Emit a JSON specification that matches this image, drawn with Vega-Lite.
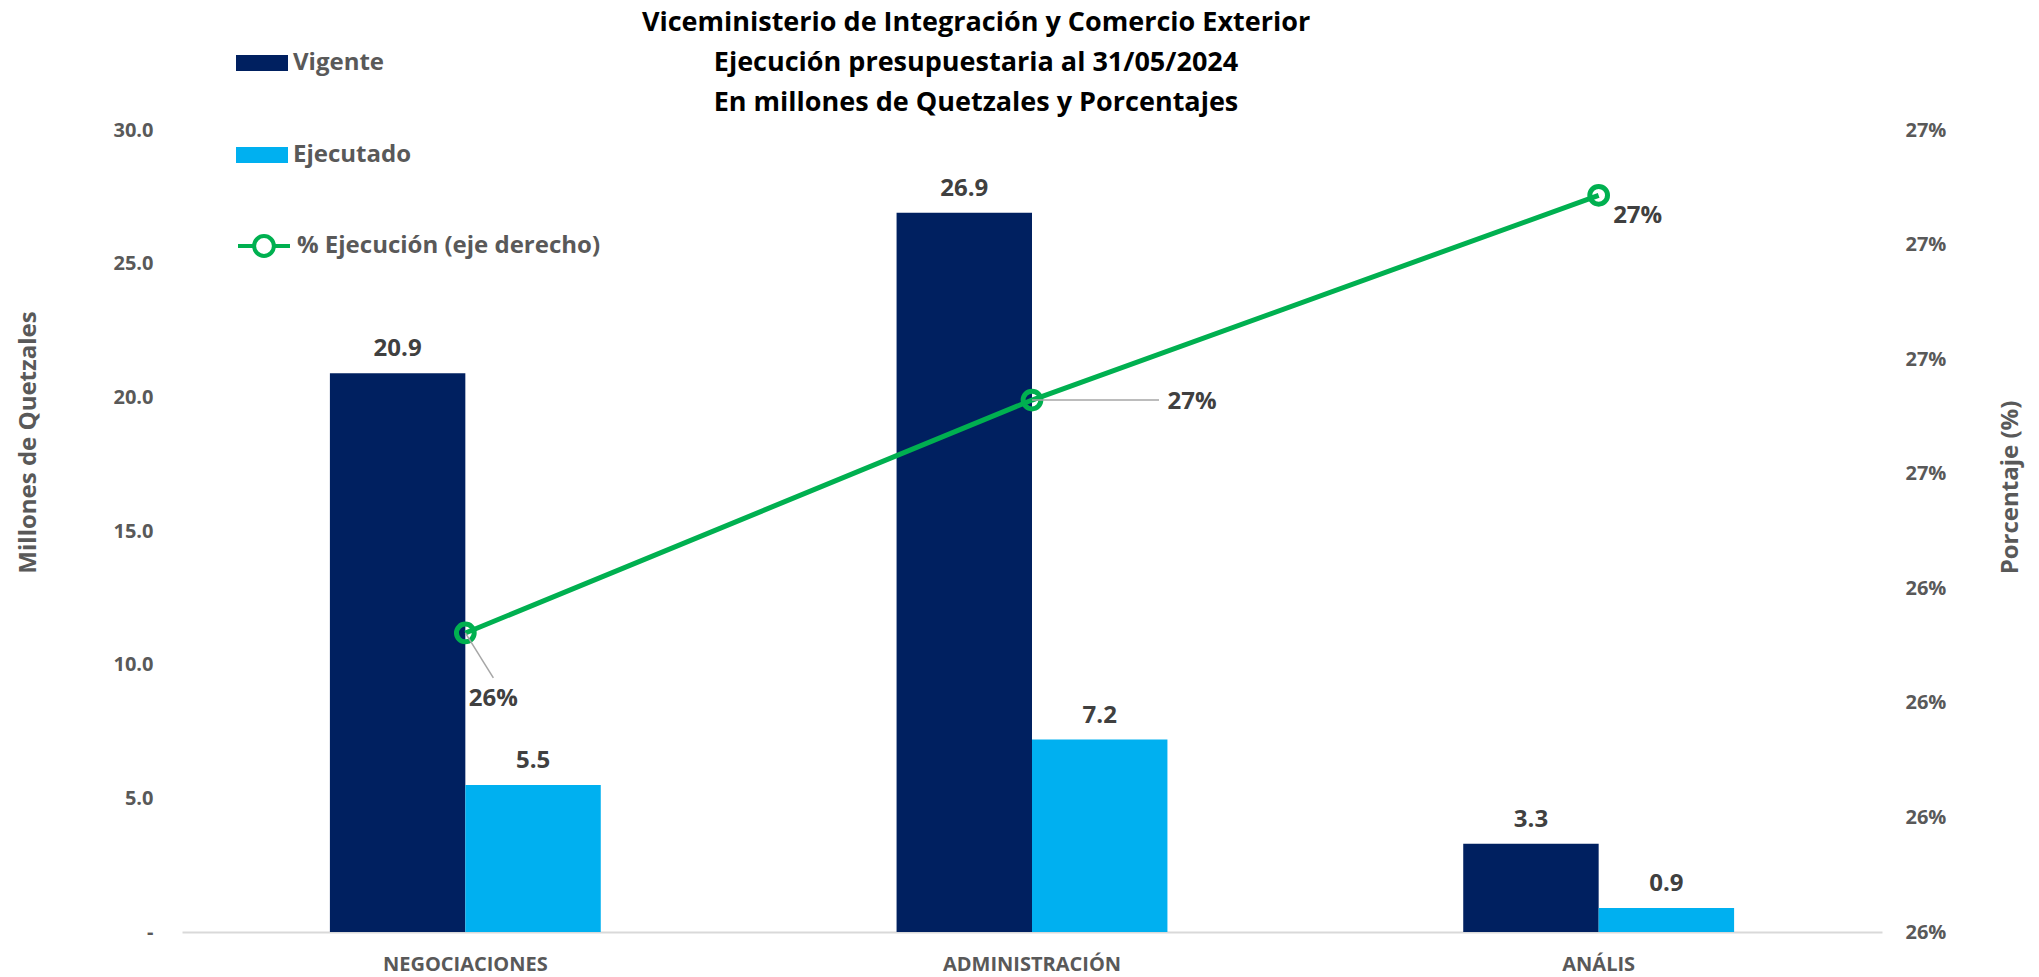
{
  "$schema": "https://vega.github.io/schema/vega-lite/v6.json",
  "width": 1700,
  "height": 802,
  "autosize": {"type": "none"},
  "padding": {"left": 182, "top": 130, "right": 157, "bottom": 45},
  "background": "white",
  "config": {"view": {"stroke": null}, "font": "Open Sans"},
  "title": {
    "text": ["Viceministerio de Integración y Comercio Exterior", "Ejecución presupuestaria al 31/05/2024", "En millones de Quetzales y Porcentajes"],
    "anchor": "middle",
    "frame": "group",
    "dx": -56,
    "fontSize": 27,
    "lineHeight": 40,
    "font": "Open Sans",
    "fontWeight": "bold",
    "color": "#000000",
    "offset": -80
  },
  "datasets": {
    "montos": [
      {"cat": "NEGOCIACIONES", "serie": "Vigente", "valor": 20.9},
      {"cat": "NEGOCIACIONES", "serie": "Ejecutado", "valor": 5.5},
      {"cat": "ADMINISTRACIÓN", "serie": "Vigente", "valor": 26.9},
      {"cat": "ADMINISTRACIÓN", "serie": "Ejecutado", "valor": 7.2},
      {"cat": "ANÁLIS", "serie": "Vigente", "valor": 3.3},
      {"cat": "ANÁLIS", "serie": "Ejecutado", "valor": 0.9}
    ],
    "ejecucion": [
      {"cat": "NEGOCIACIONES", "indicador": "% Ejecución (eje derecho)", "pct": 0.26361},
      {"cat": "ADMINISTRACIÓN", "indicador": "% Ejecución (eje derecho)", "pct": 0.265643},
      {"cat": "ANÁLIS", "indicador": "% Ejecución (eje derecho)", "pct": 0.26743}
    ]
  },
  "encoding": {
    "x": {
      "field": "cat",
      "type": "nominal",
      "sort": ["NEGOCIACIONES", "ADMINISTRACIÓN", "ANÁLIS"],
      "scale": {"paddingInner": 0.522, "paddingOuter": 0.261},
      "axis": {
        "title": null,
        "labelAngle": 0,
        "labelFont": "Open Sans",
        "labelFontSize": 20,
        "labelFontWeight": "bold",
        "labelColor": "#595959",
        "labelPadding": 22,
        "ticks": false,
        "domainColor": "#D9D9D9",
        "domainWidth": 2,
        "grid": false
      }
    }
  },
  "layer": [
    {
      "data": {"name": "montos"},
      "encoding": {
        "y": {
          "field": "valor",
          "type": "quantitative",
          "scale": {"domain": [0, 30]},
          "axis": {
            "title": "Millones de Quetzales",
            "titleFont": "Open Sans",
            "titleFontSize": 24,
            "titleFontWeight": "bold",
            "titleColor": "#595959",
            "titleAngle": -90,
            "titleX": -154,
            "titleY": 312,
            "titleAlign": "center",
            "titleBaseline": "middle",
            "values": [0, 5, 10, 15, 20, 25, 30],
            "labelExpr": "datum.value == 0 ? '-\u00a0\u00a0' : format(datum.value, '.1f')",
            "labelFont": "Open Sans",
            "labelFontSize": 20,
            "labelFontWeight": "bold",
            "labelColor": "#595959",
            "labelPadding": 29,
            "ticks": false,
            "domain": false,
            "grid": false
          }
        }
      },
      "layer": [
        {
          "mark": {"type": "bar"},
          "encoding": {
            "xOffset": {"field": "serie", "type": "nominal", "scale": {"domain": ["Vigente", "Ejecutado"], "paddingInner": 0, "paddingOuter": 0}},
            "color": {
              "field": "serie",
              "type": "nominal",
              "scale": {"domain": ["Vigente", "Ejecutado"], "range": ["#002060", "#00B0F0"]},
              "legend": {
                "orient": "none",
                "legendX": 54,
                "legendY": -93,
                "title": null,
                "direction": "vertical",
                "symbolType": "M-1,-0.31H1V0.31H-1Z",
                "symbolSize": 2704,
                "symbolStrokeWidth": 0,
                "rowPadding": 54,
                "padding": 0,
                "labelFont": "Open Sans",
                "labelFontSize": 24,
                "labelFontWeight": "bold",
                "labelColor": "#595959",
                "labelOffset": 5,
                "labelLimit": 0
              }
            }
          }
        },
        {
          "mark": {"type": "text", "font": "Open Sans", "fontSize": 24, "fontWeight": "bold", "color": "#404040", "baseline": "alphabetic", "dy": -17},
          "encoding": {
            "xOffset": {"field": "serie", "type": "nominal", "scale": {"domain": ["Vigente", "Ejecutado"], "paddingInner": 0, "paddingOuter": 0}},
            "text": {"field": "valor", "type": "quantitative", "format": ".1f"}
          }
        }
      ]
    },
    {
      "data": {"name": "ejecucion"},
      "encoding": {
        "y": {
          "field": "pct",
          "type": "quantitative",
          "scale": {"domain": [0.261, 0.268], "zero": false},
          "axis": {
            "orient": "right",
            "title": "Porcentaje (%)",
            "titleFont": "Open Sans",
            "titleFontSize": 24,
            "titleFontWeight": "bold",
            "titleColor": "#595959",
            "titleAngle": -90,
            "titleX": 128,
            "titleY": 357,
            "titleAlign": "center",
            "titleBaseline": "middle",
            "values": [0.261, 0.262, 0.263, 0.264, 0.265, 0.266, 0.267, 0.268],
            "labelExpr": "format(datum.value + 0.0000001, '.0%')",
            "labelFont": "Open Sans",
            "labelFontSize": 20,
            "labelFontWeight": "bold",
            "labelColor": "#595959",
            "labelPadding": 23,
            "ticks": false,
            "domain": false,
            "grid": false
          }
        }
      },
      "layer": [
        {
          "mark": {"type": "line", "strokeWidth": 5},
          "encoding": {
            "stroke": {
              "field": "indicador",
              "type": "nominal",
              "scale": {"range": ["#00B050"]},
              "legend": {
                "orient": "none",
                "legendX": 54,
                "legendY": 88,
                "title": null,
                "symbolType": "M-1,0H-0.38M0.38,0H1M-0.38,0A0.38,0.38,0,1,1,0.38,0A0.38,0.38,0,1,1,-0.38,0",
                "symbolSize": 2704,
                "symbolStrokeWidth": 4,
                "symbolFillColor": "transparent",
                "padding": 0,
                "labelFont": "Open Sans",
                "labelFontSize": 24,
                "labelFontWeight": "bold",
                "labelColor": "#595959",
                "labelOffset": 5,
                "labelLimit": 0
              }
            }
          }
        },
        {
          "mark": {"type": "point", "filled": false, "size": 314, "strokeWidth": 5, "opacity": 1},
          "encoding": {
            "stroke": {"field": "indicador", "type": "nominal"}
          }
        },
        {
          "transform": [{"filter": "datum.cat == 'NEGOCIACIONES'"}],
          "mark": {"type": "rule", "color": "#A6A6A6", "strokeWidth": 1.5, "x2Offset": 28, "y2Offset": 45},
          "encoding": {"x2": {"field": "cat"}, "y2": {"field": "pct"}}
        },
        {
          "transform": [{"filter": "datum.cat == 'ADMINISTRACIÓN'"}],
          "mark": {"type": "rule", "color": "#A6A6A6", "strokeWidth": 1.5, "x2Offset": 127, "y2Offset": 0},
          "encoding": {"x2": {"field": "cat"}, "y2": {"field": "pct"}}
        },
        {
          "transform": [{"filter": "datum.cat == 'NEGOCIACIONES'"}],
          "mark": {"type": "text", "font": "Open Sans", "fontSize": 24, "fontWeight": "bold", "color": "#404040", "align": "center", "baseline": "middle", "dx": 28, "dy": 66},
          "encoding": {"text": {"field": "pct", "type": "quantitative", "format": ".0%"}}
        },
        {
          "transform": [{"filter": "datum.cat == 'ADMINISTRACIÓN'"}],
          "mark": {"type": "text", "font": "Open Sans", "fontSize": 24, "fontWeight": "bold", "color": "#404040", "align": "center", "baseline": "middle", "dx": 160, "dy": 2},
          "encoding": {"text": {"field": "pct", "type": "quantitative", "format": ".0%"}}
        },
        {
          "transform": [{"filter": "datum.cat == 'ANÁLIS'"}],
          "mark": {"type": "text", "font": "Open Sans", "fontSize": 24, "fontWeight": "bold", "color": "#404040", "align": "center", "baseline": "middle", "dx": 39, "dy": 21},
          "encoding": {"text": {"field": "pct", "type": "quantitative", "format": ".0%"}}
        }
      ]
    }
  ],
  "resolve": {"scale": {"y": "independent"}}
}
